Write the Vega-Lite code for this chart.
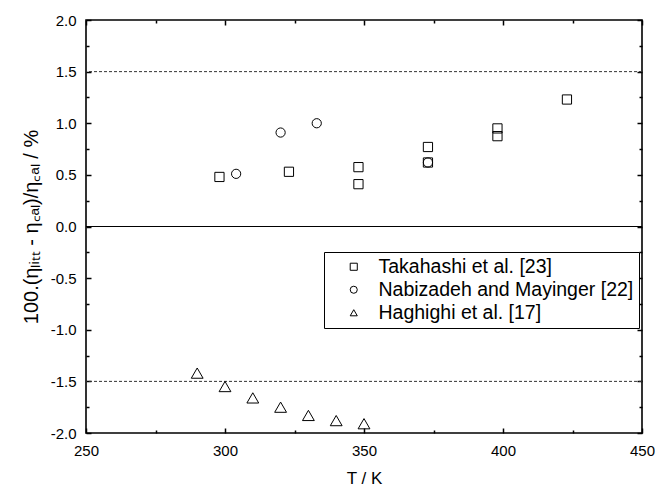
{
  "$schema": "https://vega.github.io/schema/vega-lite/v6.json",
  "width": 556,
  "height": 413,
  "autosize": {"type": "none"},
  "padding": {"left": 86, "top": 20, "right": 13, "bottom": 53},
  "background": "white",
  "config": {
    "view": {"stroke": "black", "strokeWidth": 1.6},
    "font": "Liberation Sans",
    "axis": {
      "domain": false,
      "grid": false,
      "tickColor": "black",
      "tickWidth": 1.5,
      "labelColor": "black",
      "labelFont": "Liberation Sans",
      "labelFontSize": 15,
      "titleFont": "Liberation Sans",
      "titleColor": "black",
      "titleFontWeight": "normal"
    },
    "legend": {
      "orient": "none",
      "legendX": 238,
      "legendY": 232,
      "strokeColor": "black",
      "fillColor": "white",
      "padding": 5,
      "labelFont": "Liberation Sans",
      "labelFontSize": 19.5,
      "labelColor": "black",
      "labelLimit": 500,
      "symbolSize": 50,
      "symbolStrokeColor": "black",
      "symbolFillColor": "transparent",
      "symbolStrokeWidth": 1,
      "symbolOffset": 15,
      "labelOffset": 15,
      "rowPadding": 2
    }
  },
  "datasets": {
    "pts": [
      {"T": 298, "dev": 0.48, "source": "Takahashi et al. [23]"},
      {"T": 323, "dev": 0.53, "source": "Takahashi et al. [23]"},
      {"T": 348, "dev": 0.575, "source": "Takahashi et al. [23]"},
      {"T": 348, "dev": 0.41, "source": "Takahashi et al. [23]"},
      {"T": 373, "dev": 0.77, "source": "Takahashi et al. [23]"},
      {"T": 373, "dev": 0.62, "source": "Takahashi et al. [23]"},
      {"T": 398, "dev": 0.95, "source": "Takahashi et al. [23]"},
      {"T": 398, "dev": 0.875, "source": "Takahashi et al. [23]"},
      {"T": 423, "dev": 1.23, "source": "Takahashi et al. [23]"},
      {"T": 304, "dev": 0.51, "source": "Nabizadeh and Mayinger [22]"},
      {"T": 320, "dev": 0.91, "source": "Nabizadeh and Mayinger [22]"},
      {"T": 333, "dev": 1.0, "source": "Nabizadeh and Mayinger [22]"},
      {"T": 373, "dev": 0.62, "source": "Nabizadeh and Mayinger [22]"},
      {"T": 290, "dev": -1.42, "source": "Haghighi et al. [17]"},
      {"T": 300, "dev": -1.55, "source": "Haghighi et al. [17]"},
      {"T": 310, "dev": -1.66, "source": "Haghighi et al. [17]"},
      {"T": 320, "dev": -1.75, "source": "Haghighi et al. [17]"},
      {"T": 330, "dev": -1.83, "source": "Haghighi et al. [17]"},
      {"T": 340, "dev": -1.88, "source": "Haghighi et al. [17]"},
      {"T": 350, "dev": -1.91, "source": "Haghighi et al. [17]"}
    ],
    "levels": [{"lvl": 1.5}, {"lvl": -1.5}]
  },
  "data": {"name": "pts"},
  "resolve": {"axis": {"x": "independent", "y": "independent"}},
  "layer": [
    {
      "mark": {"type": "rule", "color": "black", "strokeWidth": 1},
      "encoding": {"y": {"datum": 0, "type": "quantitative", "axis": null}}
    },
    {
      "data": {"name": "levels"},
      "mark": {"type": "rule", "color": "#333333", "strokeWidth": 1, "strokeDash": [3, 2]},
      "encoding": {"y": {"field": "lvl", "type": "quantitative", "axis": null}}
    },
    {
      "transform": [{"filter": "datum.source != 'Haghighi et al. [17]'"}],
      "mark": {"type": "point", "filled": false, "stroke": "black", "strokeWidth": 1, "opacity": 1, "size": 85},
      "encoding": {
        "x": {
          "field": "T", "type": "quantitative",
          "scale": {"domain": [250, 450], "nice": false, "zero": false},
          "axis": {"orient": "bottom", "values": [250, 300, 350, 400, 450], "tickSize": -5, "labelPadding": 15, "title": "T / K", "titleFontSize": 17, "titlePadding": 12, "labelFlush": false}
        },
        "y": {
          "field": "dev", "type": "quantitative",
          "scale": {"domain": [-2, 2], "nice": false, "zero": false},
          "axis": {"orient": "left", "values": [-2, -1.5, -1, -0.5, 0, 0.5, 1, 1.5, 2], "tickSize": -5, "labelPadding": 15, "labelExpr": "datum.value < 0 ? '-' + format(-datum.value, '.1f') : format(datum.value, '.1f')", "title": "100.(ηₗᵢₜₜ - η꜀ₐₗ)/η꜀ₐₗ / %", "titleFontSize": 20, "titlePadding": 9, "labelFlush": false}
        },
        "shape": {
          "field": "source", "type": "nominal",
          "scale": {"domain": ["Takahashi et al. [23]", "Nabizadeh and Mayinger [22]", "Haghighi et al. [17]"], "range": ["square", "circle", "triangle-up"]},
          "legend": {"title": null}
        }
      }
    },
    {
      "transform": [{"filter": "datum.source == 'Haghighi et al. [17]'"}],
      "mark": {"type": "point", "filled": false, "stroke": "black", "strokeWidth": 1, "opacity": 1, "size": 140},
      "encoding": {
        "x": {"field": "T", "type": "quantitative", "axis": null},
        "y": {"field": "dev", "type": "quantitative", "axis": null},
        "shape": {"field": "source", "type": "nominal", "legend": {"title": null}}
      }
    },
    {
      "mark": {"type": "point", "opacity": 0},
      "encoding": {
        "x": {"field": "T", "type": "quantitative", "axis": {"orient": "bottom", "values": [275, 325, 375, 425], "tickSize": -3, "labels": false, "title": null}},
        "y": {"field": "dev", "type": "quantitative", "axis": {"orient": "left", "values": [-1.75, -1.25, -0.75, -0.25, 0.25, 0.75, 1.25, 1.75], "tickSize": -3, "labels": false, "title": null}}
      }
    },
    {
      "mark": {"type": "point", "opacity": 0},
      "encoding": {
        "x": {"field": "T", "type": "quantitative", "axis": {"orient": "top", "values": [250, 300, 350, 400, 450], "tickSize": -5, "labels": false, "title": null}},
        "y": {"field": "dev", "type": "quantitative", "axis": {"orient": "right", "values": [-2, -1.5, -1, -0.5, 0, 0.5, 1, 1.5, 2], "tickSize": -5, "labels": false, "title": null}}
      }
    },
    {
      "mark": {"type": "point", "opacity": 0},
      "encoding": {
        "x": {"field": "T", "type": "quantitative", "axis": {"orient": "top", "values": [275, 325, 375, 425], "tickSize": -3, "labels": false, "title": null}},
        "y": {"field": "dev", "type": "quantitative", "axis": {"orient": "right", "values": [-1.75, -1.25, -0.75, -0.25, 0.25, 0.75, 1.25, 1.75], "tickSize": -3, "labels": false, "title": null}}
      }
    }
  ]
}
